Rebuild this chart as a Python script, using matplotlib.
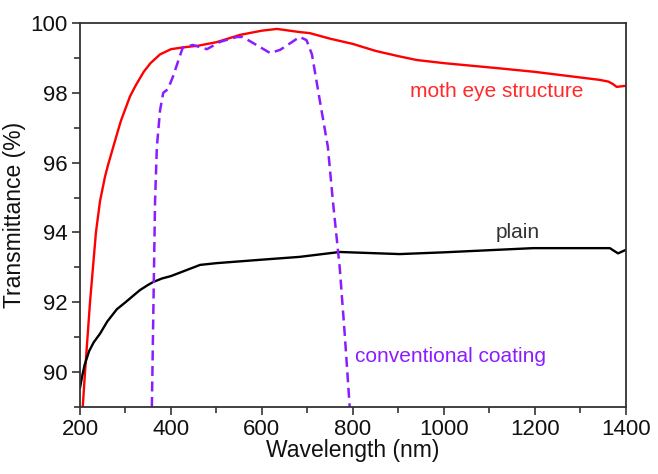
import matplotlib
matplotlib.use("Agg")
import matplotlib.pyplot as plt

plt.rcParams["font.family"] = ["Liberation Sans", "DejaVu Sans"]

# moth eye structure (red)
moth_wl = [206, 211, 222, 235, 244, 255, 262, 272, 282, 290, 300, 310, 322,
           340, 355, 376, 400, 426, 460, 500, 552, 600, 633, 683, 705, 750,
           800, 850, 900, 940, 1000, 1123, 1200, 1343, 1362, 1372, 1380, 1400]
moth_t = [89.0, 90.0, 92.0, 94.0, 94.9, 95.6, 95.95, 96.4, 96.85, 97.2, 97.55,
          97.9, 98.2, 98.6, 98.85, 99.1, 99.25, 99.3, 99.35, 99.45, 99.66,
          99.78, 99.83, 99.74, 99.71, 99.55, 99.4, 99.2, 99.05, 98.94, 98.85,
          98.7, 98.6, 98.37, 98.32, 98.25, 98.17, 98.2]

# plain substrate (black)
plain_wl = [200, 205, 210, 215, 220, 230, 244, 260, 281, 300, 320, 332, 350,
            361, 380, 400, 420, 464, 500, 600, 683, 771, 903, 1000, 1196,
            1365, 1383, 1400]
plain_t = [89.55, 89.9, 90.2, 90.4, 90.6, 90.85, 91.1, 91.45, 91.8, 92.0,
           92.22, 92.35, 92.5, 92.58, 92.68, 92.75, 92.85, 93.07, 93.12, 93.22,
           93.3, 93.44, 93.38, 93.43, 93.55, 93.55, 93.4, 93.5]

# conventional coating (purple, dashed)
conv_wl = [358, 365, 369, 376, 383, 393, 404, 426, 448, 479, 508, 545, 558,
           580, 618, 640, 683, 698, 710, 727, 745, 756, 771, 782, 793]
conv_t = [89.0, 94.9, 96.45, 97.5, 98.0, 98.1, 98.45, 99.3, 99.37, 99.25,
          99.46, 99.6, 99.6, 99.43, 99.14, 99.23, 99.6, 99.51, 99.1, 97.8,
          96.45, 94.9, 93.0, 91.1, 89.0]

fig = plt.figure(figsize=(6.58, 4.74), dpi=100)
ax = fig.add_axes([0.1216, 0.1414, 0.8294, 0.8101])

ax.plot(moth_wl, moth_t, color="#ff0000", lw=1.7)
ax.plot(plain_wl, plain_t, color="black", lw=1.7)
ax.plot(conv_wl, conv_t, color="#8a1cff", lw=1.8, ls=(0, (4, 2.2)))

ax.text(1116, 98.05, "moth eye structure", color="#ff2a2a", fontsize=15,
        ha="center", va="center")
ax.text(1163, 94.0, "plain", color="#333333", fontsize=15,
        ha="center", va="center")
ax.text(804, 90.46, "conventional coating", color="#8a1cff", fontsize=15,
        ha="left", va="center")

ax.set_xlim(200, 1400)
ax.set_ylim(89, 100)
ax.set_xticks(range(200, 1401, 200))
ax.set_xticks(range(300, 1400, 200), minor=True)
ax.set_yticks(range(90, 101, 2))
ax.set_yticks(range(89, 100, 2), minor=True)
ax.tick_params(which="both", direction="out", colors="#333333",
               labelcolor="#111111", labelsize=16, width=1.2)
ax.tick_params(which="major", length=6, pad=3)
ax.tick_params(which="minor", length=4)
for s in ax.spines.values():
    s.set_color("#333333")
    s.set_linewidth(1.3)

ax.set_xlabel("Wavelength (nm)", fontsize=16.5, labelpad=-1, color="#111111")
ax.set_ylabel("Transmittance (%)", fontsize=16.5, labelpad=3, color="#111111")

fig.savefig("out.png", dpi=100)
